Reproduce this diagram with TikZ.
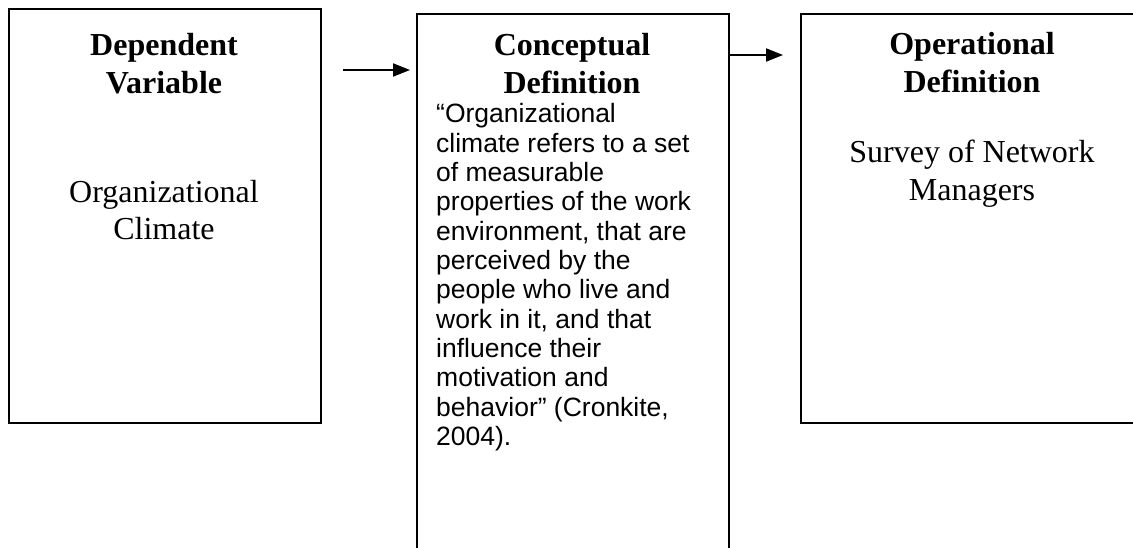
\documentclass[tikz,border=0pt]{standalone}
\usepackage{fontspec}
\setmainfont{Liberation Serif}
\newfontfamily\arialf{Liberation Sans}
\usetikzlibrary{arrows.meta}
\begin{document}
\begin{tikzpicture}[x=1pt,y=-1pt,
  box/.style={draw, line width=2pt, inner sep=0pt, anchor=north west},
  ttl/.style={font=\fontsize{32}{38}\selectfont\bfseries, anchor=base, inner sep=0pt},
  rom/.style={font=\fontsize{32}{38}\selectfont, anchor=base, inner sep=0pt},
  body/.style={font=\arialf\fontsize{26.5}{29.3}\selectfont, anchor=base west, inner sep=0pt},
  arr/.style={-{Triangle[length=17pt,width=13pt]}, line width=2pt}]
\useasboundingbox (0,0) rectangle (1133,548);
\clip (0,0) rectangle (1133,548);
% boxes
\node[box, minimum width=312pt, minimum height=414pt] (dep) at (8,8) {};
\node[box, minimum width=312pt, minimum height=570pt] (con) at (416,13) {};
\node[box, minimum width=344pt, minimum height=409pt] (ope) at (800,13) {};
% box 1 text
\node[ttl] (t1a) at (164,56) {Dependent};
\node[ttl] (t1b) at (164,94) {Variable};
\node[rom] (r1a) at (164,203) {Organizational};
\node[rom] (r1b) at (164,240) {Climate};
% box 2 text
\node[ttl] (t2a) at (572,56) {Conceptual};
\node[ttl] (t2b) at (572,94) {Definition};
\foreach \t [count=\i from 0] in {“Organizational, climate refers to a set, of measurable, properties of the work, {environment, that are}, perceived by the, people who live and, {work in it, and that}, influence their, motivation and, {behavior” (Cronkite,}, 2004).}
  \node[body] (b\i) at (436,123+29.3*\i) {\t};
% box 3 text
\node[ttl] (t3a) at (972,55) {Operational};
\node[ttl] (t3b) at (972,93) {Definition};
\node[rom] (r3a) at (972,163) {Survey of Network};
\node[rom] (r3b) at (972,201) {Managers};
% arrows
\coordinate (a1s) at (343,70);
\coordinate (a1e) at (410,70);
\draw[arr] (a1s) -- (a1e);
\coordinate (a2e) at (783,55);
\draw[arr] (con.east |- a2e) -- (a2e);
\end{tikzpicture}
\end{document}
